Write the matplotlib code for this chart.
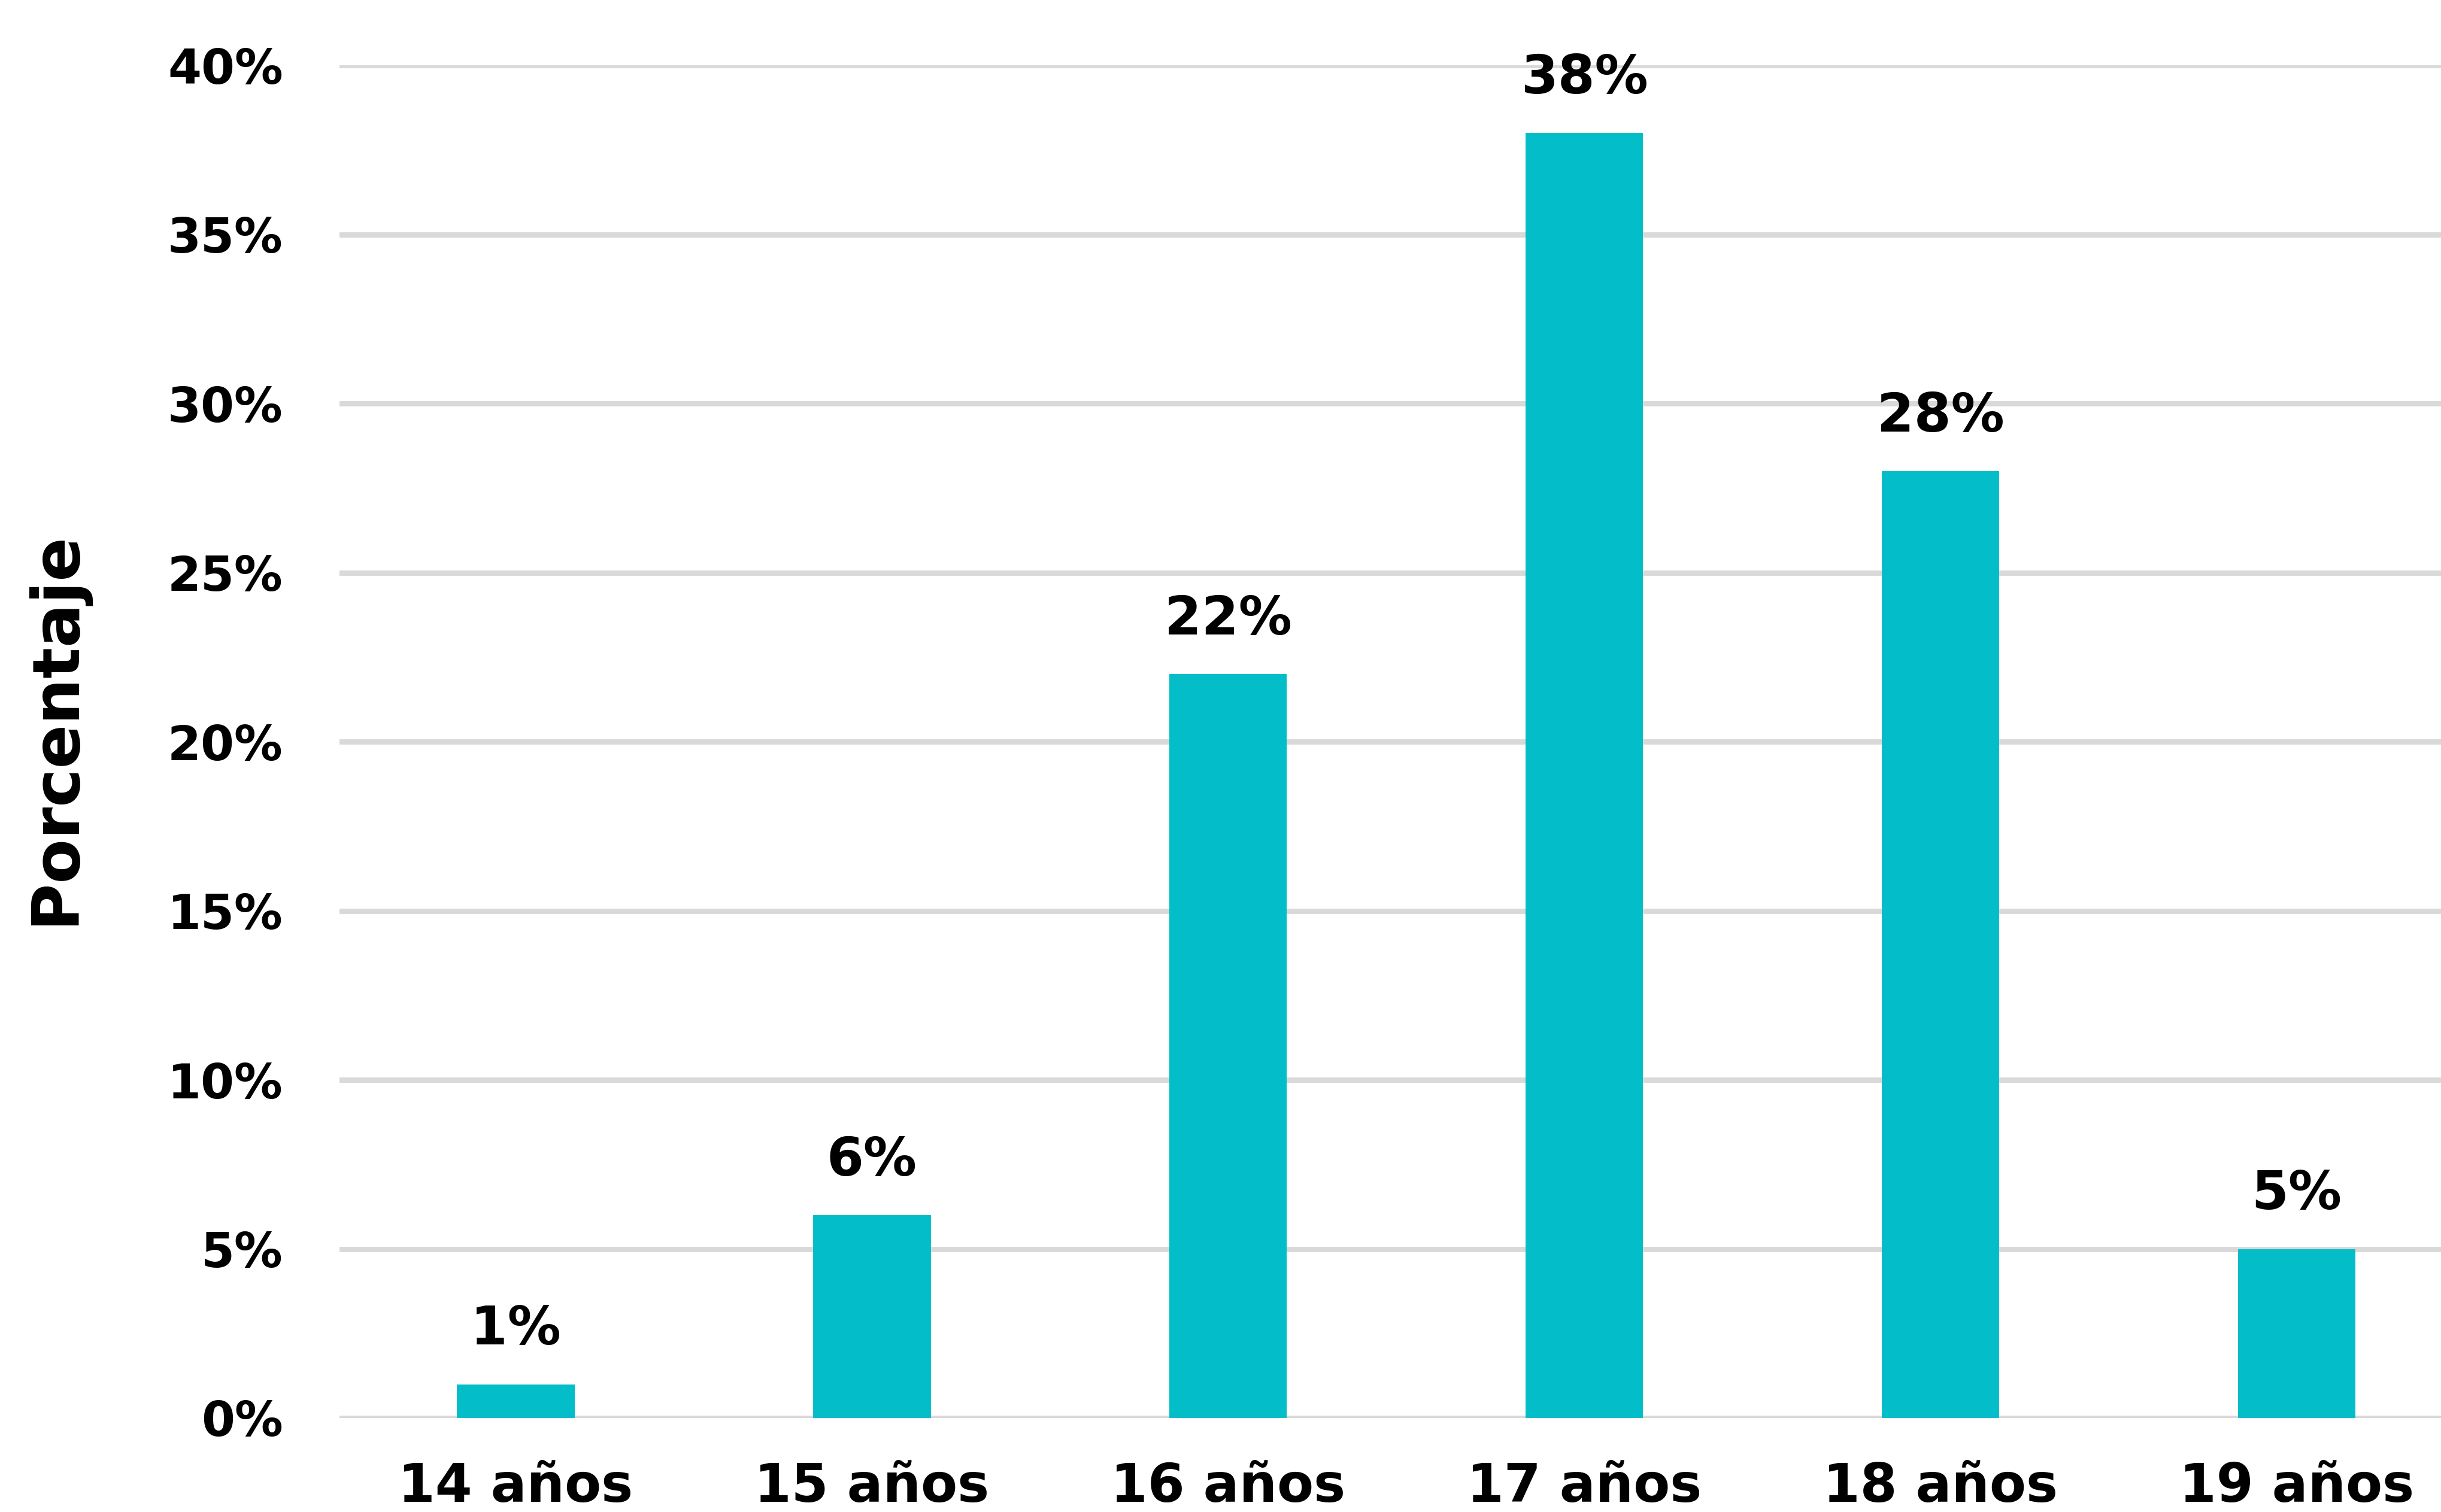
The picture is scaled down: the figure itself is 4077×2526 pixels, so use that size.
import matplotlib
matplotlib.use("Agg")
import matplotlib.pyplot as plt
import numpy as np

# ── Data ─────────────────────────────────────────────────────────────────────
edades      = ["14 años", "15 años", "16 años", "17 años", "18 años", "19 años"]
porcentajes = [1, 6, 22, 38, 28, 5]
y_ticks     = [0, 5, 10, 15, 20, 25, 30, 35, 40]

BAR_COLOR  = "#03BEC8"
GRID_COLOR = "#D9D9D9"

plt.rcParams["font.family"] = ["DejaVu Sans"]
plt.rcParams["font.weight"] = "bold"

# ── Plot ─────────────────────────────────────────────────────────────────────
fig = plt.figure(figsize=(20.385, 12.63), dpi=200)
ax = fig.add_axes([567 / 4077, 157 / 2526, 1 - 567 / 4077, (2369 - 109) / 2526])

x = np.arange(len(edades))
bars = ax.bar(x, porcentajes, width=0.33, color=BAR_COLOR, zorder=3)

for rect, v in zip(bars, porcentajes):
    ax.annotate(f"{v}%", (rect.get_x() + rect.get_width() / 2, v),
                xytext=(0, 17), textcoords="offset points",
                ha="center", va="bottom", fontsize=32, fontweight="bold")

# ── Formatting ───────────────────────────────────────────────────────────────
ax.set_xlim(-0.495, 5.405)
ax.set_ylim(0, 40)
ax.set_yticks(y_ticks)
ax.set_yticklabels([f"{t}%" for t in y_ticks], fontsize=29, fontweight="bold")
ax.set_xticks(x)
ax.set_xticklabels(edades, fontsize=32, fontweight="bold")
ax.tick_params(axis="both", length=0)
ax.tick_params(axis="y", pad=34)
ax.tick_params(axis="x", pad=26)

ax.yaxis.grid(True, color=GRID_COLOR, linewidth=3.2, zorder=0)
ax.set_axisbelow(True)
for s in ax.spines.values():
    s.set_visible(False)

ax.set_ylabel("Porcentaje", fontsize=39, fontweight="bold")
ax.yaxis.set_label_coords(-0.12, 0.51)

fig.savefig("out.png", dpi=200)
